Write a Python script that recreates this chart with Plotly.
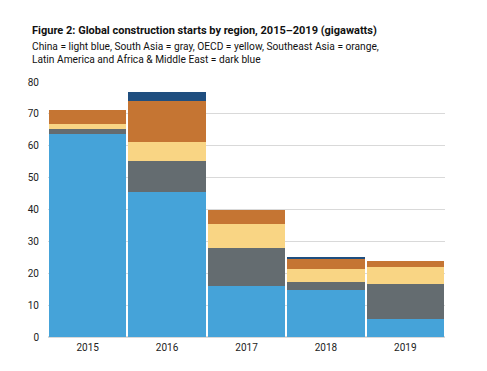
import plotly.graph_objects as go

years = ["2015", "2016", "2017", "2018", "2019"]
china = [63.8, 45.6, 15.9, 14.6, 5.8]
south_asia = [1.6, 9.7, 12.0, 2.6, 10.8]
oecd = [1.5, 6.0, 7.6, 4.0, 5.3]
southeast_asia = [4.4, 12.8, 4.4, 3.2, 2.0]
latam_africa_me = [0.0, 2.7, 0.0, 0.85, 0.0]

series = [
    ("China", china, "#45A3D9"),
    ("South Asia", south_asia, "#646C70"),
    ("OECD", oecd, "#F9D584"),
    ("Southeast Asia", southeast_asia, "#C57533"),
    ("Latin America and Africa & Middle East", latam_africa_me, "#1F4E7F"),
]

fig = go.Figure()
for name, vals, color in series:
    fig.add_trace(go.Bar(x=years, y=vals, name=name, marker=dict(color=color, line=dict(width=0))))

fig.update_layout(
    barmode="stack",
    bargap=0.025,
    width=479, height=363,
    margin=dict(l=40, r=42, t=74, b=34),
    paper_bgcolor="white", plot_bgcolor="white",
    showlegend=False,
    font=dict(family="Roboto, Arial, sans-serif", size=10, color="#222222"),
    xaxis=dict(showgrid=False, showline=False, ticks="", tickfont=dict(size=10, color="#222222"),
               ticklabelstandoff=3),
    yaxis=dict(range=[0, 80], dtick=10, showgrid=True, gridcolor="#d9d9d9", gridwidth=1,
               zeroline=True, zerolinecolor="#d9d9d9", ticks="", tickfont=dict(size=10, color="#222222"),
               ticklabelstandoff=8),
    annotations=[
        dict(text="<b>Figure 2: Global construction starts by region, 2015\u20132019 (gigawatts)</b>",
             xref="paper", yref="paper", x=-18/397, y=1 + 52/255, xanchor="left", yanchor="middle",
             showarrow=False, font=dict(family="Roboto, sans-serif", size=11, color="#111111")),
        dict(text="China = light blue, South Asia = gray, OECD = yellow, Southeast Asia = orange,<br>Latin America and Africa & Middle East = dark blue",
             xref="paper", yref="paper", x=-18/397, y=1 + 29/255, xanchor="left", yanchor="middle", align="left",
             showarrow=False, font=dict(family="Roboto, sans-serif", size=10.2, color="#111111")),
    ],
)

fig.write_html("out.html")
